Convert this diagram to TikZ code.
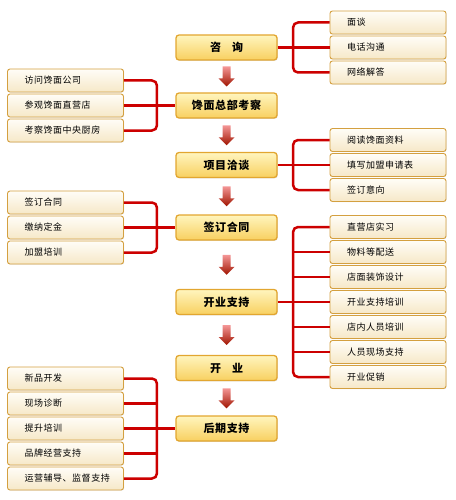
\documentclass[tikz,border=0pt]{standalone}
\usepackage{fontspec}
\usepackage{tikz}
\usepackage{xcolor}
\usetikzlibrary{calc,positioning,shadows}
\newfontfamily\cjk{Noto Sans CJK SC}[LetterSpace=6]
\definecolor{linkred}{RGB}{204,0,0}
\definecolor{stepedge}{RGB}{226,166,48}
\definecolor{steptop}{RGB}{255,245,190}
\definecolor{stepbottom}{RGB}{248,208,96}
\definecolor{itemedge}{RGB}{212,160,64}
\definecolor{itemtop}{RGB}{255,253,247}
\definecolor{itembottom}{RGB}{246,232,200}
\definecolor{arrowtop}{RGB}{244,150,150}
\definecolor{arrowmid}{RGB}{228,40,30}
\definecolor{arrowbottom}{RGB}{160,20,0}

% fat down arrow between two step boxes
\newcommand{\flowarrow}[2]{%
  \coordinate (mid) at ($(#1.south)!0.5!(#2.north)$);
  \shade[top color=arrowtop,middle color=arrowmid,bottom color=arrowbottom]
    ([shift={(-4,-10)}]mid) -- ([shift={(4,-10)}]mid) -- ([shift={(4,2)}]mid)
    -- ([shift={(8,2)}]mid) -- ([shift={(0,10)}]mid) -- ([shift={(-8,2)}]mid)
    -- ([shift={(-4,2)}]mid) -- cycle;}

\begin{document}
\begin{tikzpicture}[x=1pt,y=-1pt,
    stepbox/.style={draw=stepedge,line width=1.3pt,rounded corners=3pt,
      top color=steptop,bottom color=stepbottom,
      drop shadow={shadow xshift=0.8pt,shadow yshift=-0.8pt,opacity=0.25},
      minimum width=101pt,minimum height=25pt,inner sep=0pt,
      font=\cjk\bfseries\fontsize{11}{13}\selectfont},
    itembox/.style={draw=itemedge,line width=0.9pt,rounded corners=2.5pt,
      top color=itemtop,bottom color=itembottom,
      drop shadow={shadow xshift=0.6pt,shadow yshift=-0.6pt,opacity=0.2},
      minimum width=116pt,minimum height=23pt,inner xsep=17pt,inner ysep=0pt,
      execute at begin node={\hbox to 82pt\bgroup},
      execute at end node={\hss\egroup},
      font=\cjk\fontsize{9}{11}\selectfont},
    link/.style={linkred,line width=2.5pt},
    bracket/.style={link,rounded corners=5pt}]
    \useasboundingbox (0,0) rectangle (455,500);

    % Main steps
    \node[stepbox] (c1) at (226.5,47.5) {咨\quad 询};
    \node[stepbox] (c2) at (226.5,105.5) {馋面总部考察};
    \node[stepbox] (c3) at (226.5,165) {项目洽谈};
    \node[stepbox] (c4) at (226.5,227.5) {签订合同};
    \node[stepbox] (c5) at (226.5,302) {开业支持};
    \node[stepbox] (c6) at (226.5,368) {开\quad 业};
    \node[stepbox] (c7) at (226.5,428.5) {后期支持};

    % Arrows between steps
    \flowarrow{c1}{c2}
    \flowarrow{c2}{c3}
    \flowarrow{c3}{c4}
    \flowarrow{c4}{c5}
    \flowarrow{c5}{c6}
    \flowarrow{c6}{c7}

    % Detail boxes
    \foreach \t [count=\i] in {面谈,电话沟通,网络解答}
      \node[itembox] (consult\i) at (388,{47.5+25*(\i-2)}) {\t};
    \foreach \t [count=\i] in {访问馋面公司,参观馋面直营店,考察馋面中央厨房}
      \node[itembox] (visit\i) at (65.5,{105.5+25*(\i-2)}) {\t};
    \foreach \t [count=\i] in {阅读馋面资料,填写加盟申请表,签订意向}
      \node[itembox] (talk\i) at (388,{165+25*(\i-2)}) {\t};
    \foreach \t [count=\i] in {签订合同,缴纳定金,加盟培训}
      \node[itembox] (sign\i) at (65.5,{227.5+25*(\i-2)}) {\t};
    \foreach \t [count=\i] in {直营店实习,物料等配送,店面装饰设计,开业支持培训,店内人员培训,人员现场支持,开业促销}
      \node[itembox] (support\i) at (388,{302+25*(\i-4)}) {\t};
    \foreach \t [count=\i] in {新品开发,现场诊断,提升培训,品牌经营支持,运营辅导、监督支持}
      \node[itembox] (after\i) at (65.5,{428.5+25*(\i-3)}) {\t};

    % Brackets
    \draw[bracket] (consult1.west) -| ([xshift=-36.5pt]consult3.west) -- (consult3.west);
    \draw[link] (c1.east) -- (consult2.west);

    \draw[bracket] (visit1.east) -| ([xshift=33pt]visit3.east) -- (visit3.east);
    \draw[link] (visit2.east) -- (c2.west);

    \draw[bracket] (talk1.west) -| ([xshift=-36.5pt]talk3.west) -- (talk3.west);
    \draw[link] (c3.east) -- (talk2.west);

    \draw[bracket] (sign1.east) -| ([xshift=33pt]sign3.east) -- (sign3.east);
    \draw[link] (sign2.east) -- (c4.west);

    \draw[bracket] (support1.west) -| ([xshift=-36.5pt]support7.west) -- (support7.west);
    \foreach \i in {2,3,5,6}
      \draw[link] (support\i.west) -- ++(-36.5,0);
    \draw[link] (c5.east) -- (support4.west);

    \draw[bracket] (after1.east) -| ([xshift=33pt]after5.east) -- (after5.east);
    \foreach \i in {2,4}
      \draw[link] (after\i.east) -- ++(33,0);
    \draw[link] (after3.east) -- (c7.west);
\end{tikzpicture}
\end{document}
